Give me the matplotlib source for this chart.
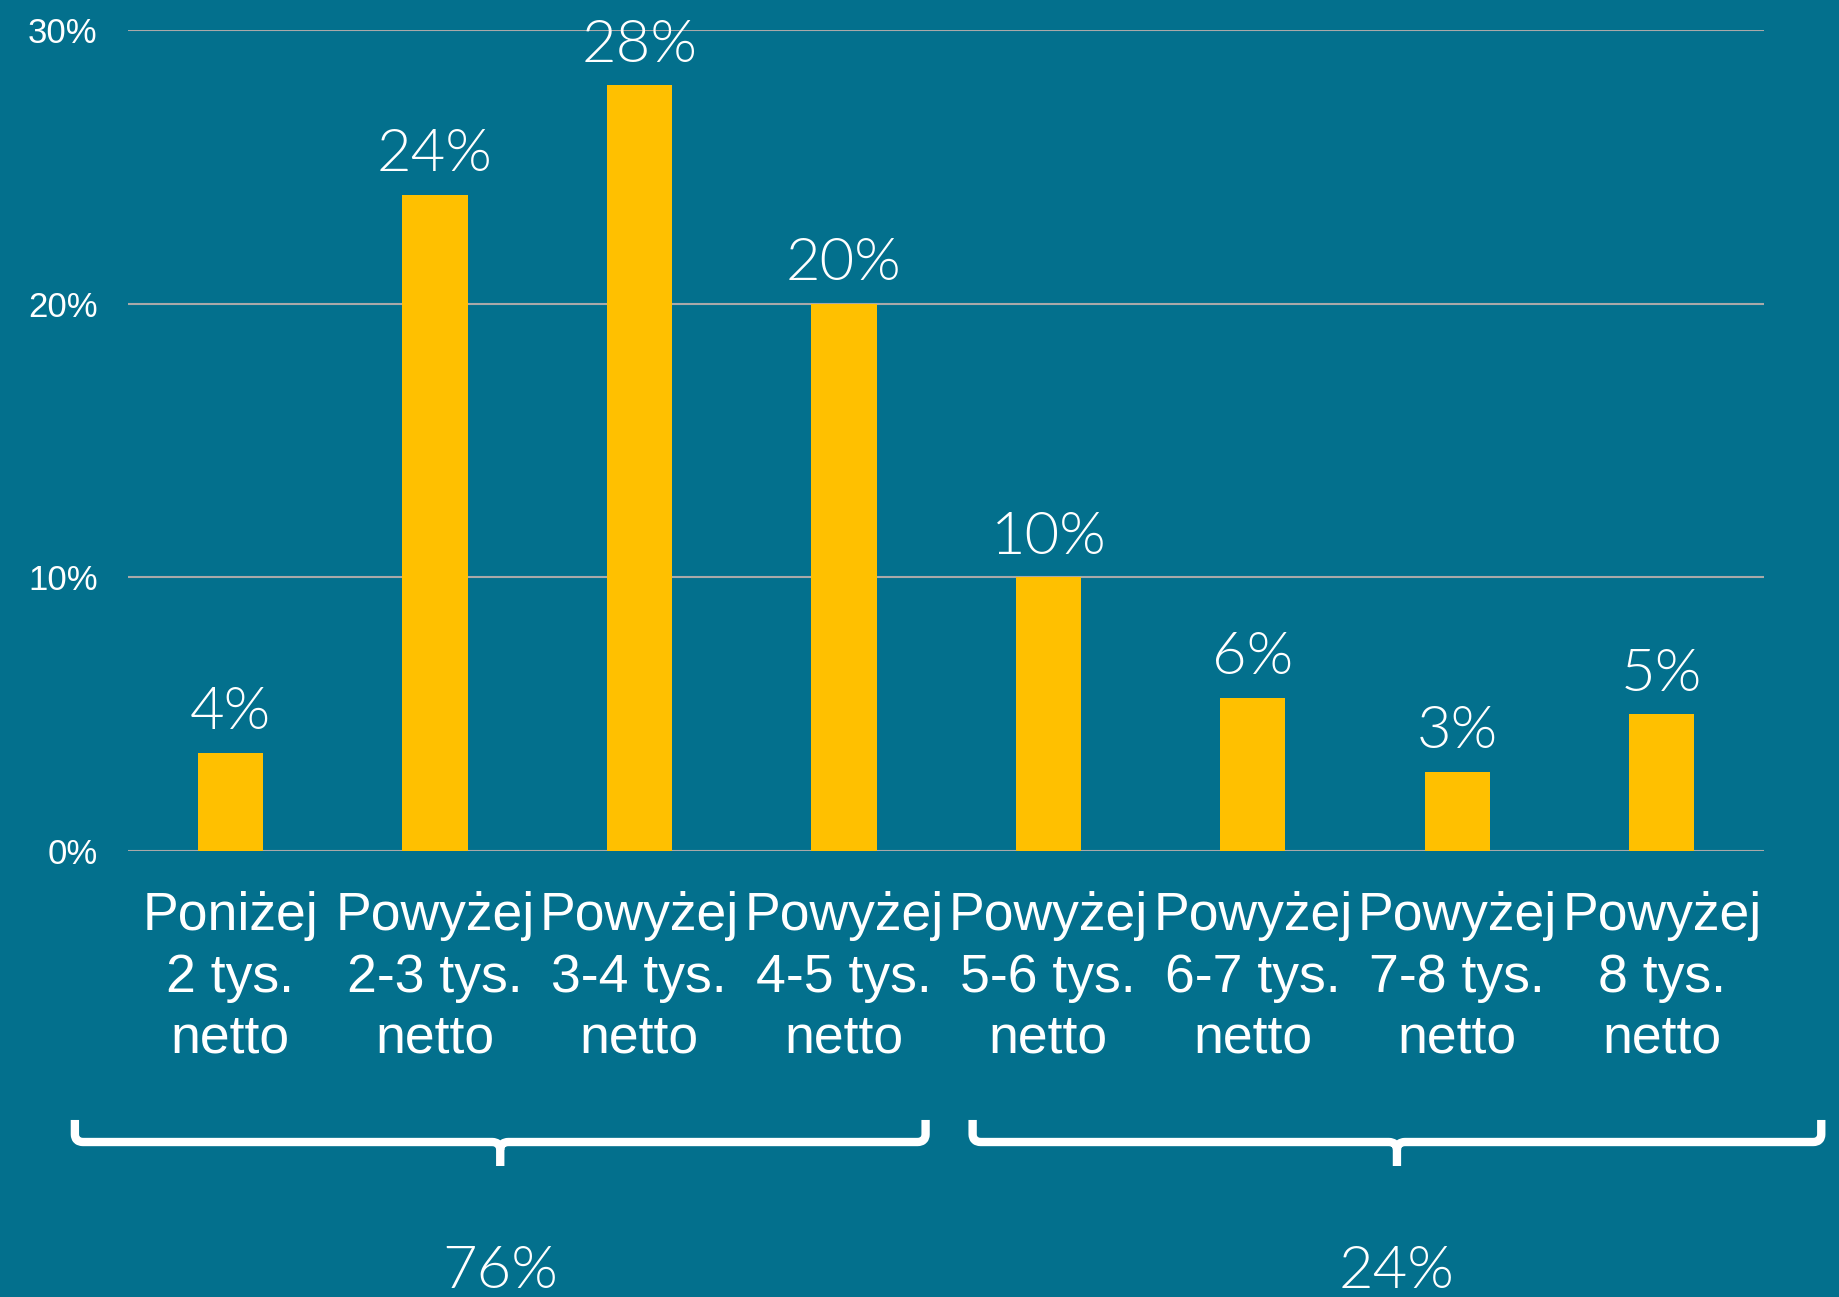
import matplotlib
matplotlib.use("Agg")
import matplotlib.pyplot as plt
import matplotlib.transforms as mtransforms
from matplotlib.path import Path
from matplotlib.patches import PathPatch

# data
categories = ["Poniżej\n2 tys.\nnetto", "Powyżej\n2-3 tys.\nnetto", "Powyżej\n3-4 tys.\nnetto",
              "Powyżej\n4-5 tys.\nnetto", "Powyżej\n5-6 tys.\nnetto", "Powyżej\n6-7 tys.\nnetto",
              "Powyżej\n7-8 tys.\nnetto", "Powyżej\n8 tys.\nnetto"]
values = [3.6, 24.0, 28.0, 20.0, 10.0, 5.6, 2.9, 5.0]
value_labels = ["4%", "24%", "28%", "20%", "10%", "6%", "3%", "5%"]
yticks = [0, 10, 20, 30]
ytick_labels = ["0%", "10%", "20%", "30%"]
group_labels = ["76%", "24%"]
group_spans = [(-0.76, 3.40), (3.63, 7.78)]

BG = "#03708D"
BAR = "#FFC000"
GRID = "#A9A9A9"
THIN = "Lato"
THIN_W = 300

fig = plt.figure(figsize=(18.4, 12.97), dpi=100, facecolor=BG)
ax = fig.add_axes([0.0696, 0.3439, 0.8891, 0.6326])
ax.set_facecolor(BG)

x = range(len(values))
ax.bar(x, values, width=0.32, color=BAR, zorder=3)

ax.set_xlim(-0.5, len(values) - 0.5)
ax.set_ylim(0, 30)
ax.set_yticks(yticks)
ax.set_yticklabels(ytick_labels)
ax.set_xticks(list(x))
ax.set_xticklabels(categories, linespacing=1.29)
ax.tick_params(axis="y", length=0, pad=22, labelsize=25, labelcolor="white")
ax.tick_params(axis="x", length=0, pad=29, labelsize=38.5, labelcolor="white")
for lab in ax.get_xticklabels() + ax.get_yticklabels():
    lab.set_fontfamily("Liberation Sans")
ax.grid(axis="y", color=GRID, linewidth=1.5, zorder=0)
for s in ax.spines.values():
    s.set_visible(False)

for xi, v, lab in zip(x, values, value_labels):
    ax.annotate(lab, (xi, v), xytext=(0, 17), textcoords="offset points",
                ha="center", va="baseline", fontsize=43, color="white",
                family=THIN, fontweight=THIN_W)

# braces under the two groups
trans = mtransforms.blended_transform_factory(ax.transData, fig.transFigure)
y_top, y_h, y_bot = 0.1365, 0.1195, 0.101
for (x0, x1), lab in zip(group_spans, group_labels):
    xc = (x0 + x1) / 2
    r = 0.04
    dy = 0.006
    verts = [(x0, y_top), (x0, y_h + dy), (x0, y_h), (x0 + r, y_h),
             (xc - r, y_h), (xc, y_h), (xc, y_h - dy), (xc, y_bot)]
    codes = [Path.MOVETO, Path.LINETO, Path.CURVE3, Path.CURVE3,
             Path.LINETO, Path.CURVE3, Path.CURVE3, Path.LINETO]
    verts2 = [(x1, y_top), (x1, y_h + dy), (x1, y_h), (x1 - r, y_h),
              (xc + r, y_h), (xc, y_h), (xc, y_h - dy)]
    codes2 = [Path.MOVETO, Path.LINETO, Path.CURVE3, Path.CURVE3,
              Path.LINETO, Path.CURVE3, Path.CURVE3]
    for vv, cc in ((verts, codes), (verts2, codes2)):
        patch = PathPatch(Path(vv, cc), transform=trans, facecolor="none",
                          edgecolor="white", linewidth=6, capstyle="butt",
                          joinstyle="round", clip_on=False)
        fig.add_artist(patch)
    fig.text(xc, 0.0069, lab, transform=trans, ha="center", va="baseline",
             fontsize=43, color="white", family=THIN, fontweight=THIN_W)

fig.savefig("out.png", dpi=100, facecolor=BG)
